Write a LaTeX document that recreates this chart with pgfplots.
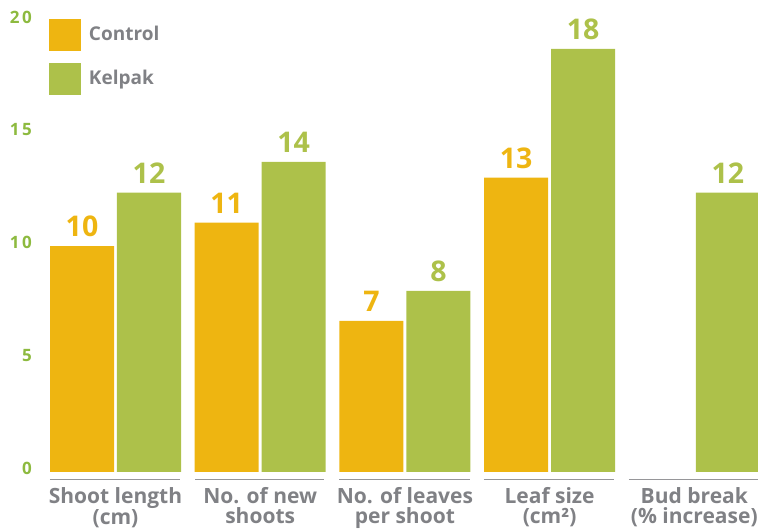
\documentclass[border=0pt]{standalone}
\usepackage{fontspec}
\setmainfont{Open Sans}
\newfontfamily\tickfont[LetterSpace=15]{Open Sans}
\usepackage{pgfplots}
\pgfplotsset{compat=1.18}
\definecolor{ctrl}{HTML}{EEB511}
\definecolor{kelp}{HTML}{ADC14A}
\definecolor{tickgreen}{HTML}{8DBA3F}
\definecolor{txtgray}{HTML}{808185}
\definecolor{linegray}{HTML}{969699}
\begin{document}
\begin{tikzpicture}
\begin{axis}[
  scale only axis, width=758pt, height=472pt,
  xmin=-0.7982, xmax=4.4402, ymin=0, ymax=20.931,
  axis line style={draw=none}, major tick length=0pt,
  xtick={0,1,2,3,4},
  xticklabels={{Shoot length\\(cm)},{No. of new\\shoots},{No. of leaves\\per shoot},{Leaf size\\(cm²)},{Bud break\\(\% increase)}},
  xticklabel style={align=center, anchor=north, inner sep=0pt, yshift=-15pt,
    font=\fontsize{21}{20}\selectfont\bfseries, text=txtgray},
  ytick={0,5,10,15,20},
  yticklabel style={anchor=east, inner sep=0pt, xshift=32pt, yshift=4pt,
    font=\tickfont\fontsize{17}{17}\selectfont\bfseries, text=tickgreen},
  /pgf/number format/assume math mode=true,
  clip=false,
  legend style={at={(0.0646,0.9597)}, anchor=north west, draw=none, fill=none,
    inner sep=0pt, outer sep=0pt, row sep=12pt, column sep=8pt,
    cells={anchor=base west}, nodes={inner sep=0pt, text=txtgray},
    font=\fontsize{19}{19}\selectfont\bfseries},
]
\addplot[ybar, bar width=0.4423, bar shift=0pt, fill=ctrl, draw=none,
  nodes near coords, point meta=explicit symbolic,
  every node near coord/.append style={anchor=base, inner sep=0pt, yshift=9.5pt,
    text=ctrl, font=\fontsize{28.5}{30}\selectfont\bfseries},
  legend image code/.code={\fill[ctrl] (0pt,-10.15pt) rectangle (32pt,21.85pt);}]
  coordinates {(-0.2315,10.02) [10] (0.7685,11.06) [11] (1.7685,6.70) [7] (2.7685,13.05) [13]};
\addlegendentry{Control}
\addplot[ybar, bar width=0.4423, bar shift=0pt, fill=kelp, draw=none,
  nodes near coords, point meta=explicit symbolic,
  every node near coord/.append style={anchor=base, inner sep=0pt, yshift=9.5pt,
    text=kelp, font=\fontsize{28.5}{30}\selectfont\bfseries},
  legend image code/.code={\fill[kelp] (0pt,-10.15pt) rectangle (32pt,21.85pt);}]
  coordinates {(0.2315,12.39) [12] (1.2315,13.75) [14] (2.2315,8.03) [8] (3.2315,18.76) [18] (4.2315,12.39) [12]};
\addlegendentry{Kelpak}
\addplot[sharp plot, forget plot, no markers, linegray, line width=1.5pt] coordinates {(-0.4527,-0.324) (0.4457,-0.324)};
\addplot[sharp plot, forget plot, no markers, linegray, line width=1.5pt] coordinates {(0.5494,-0.324) (1.4409,-0.324)};
\addplot[sharp plot, forget plot, no markers, linegray, line width=1.5pt] coordinates {(1.5446,-0.324) (2.4509,-0.324)};
\addplot[sharp plot, forget plot, no markers, linegray, line width=1.5pt] coordinates {(2.5464,-0.324) (3.4450,-0.324)};
\addplot[sharp plot, forget plot, no markers, linegray, line width=1.5pt] coordinates {(3.5484,-0.324) (4.4402,-0.324)};
\end{axis}
\pgfresetboundingbox
\path[use as bounding box] ([yshift=-57pt]current axis.south west) rectangle (current axis.north east);
\end{tikzpicture}
\end{document}
